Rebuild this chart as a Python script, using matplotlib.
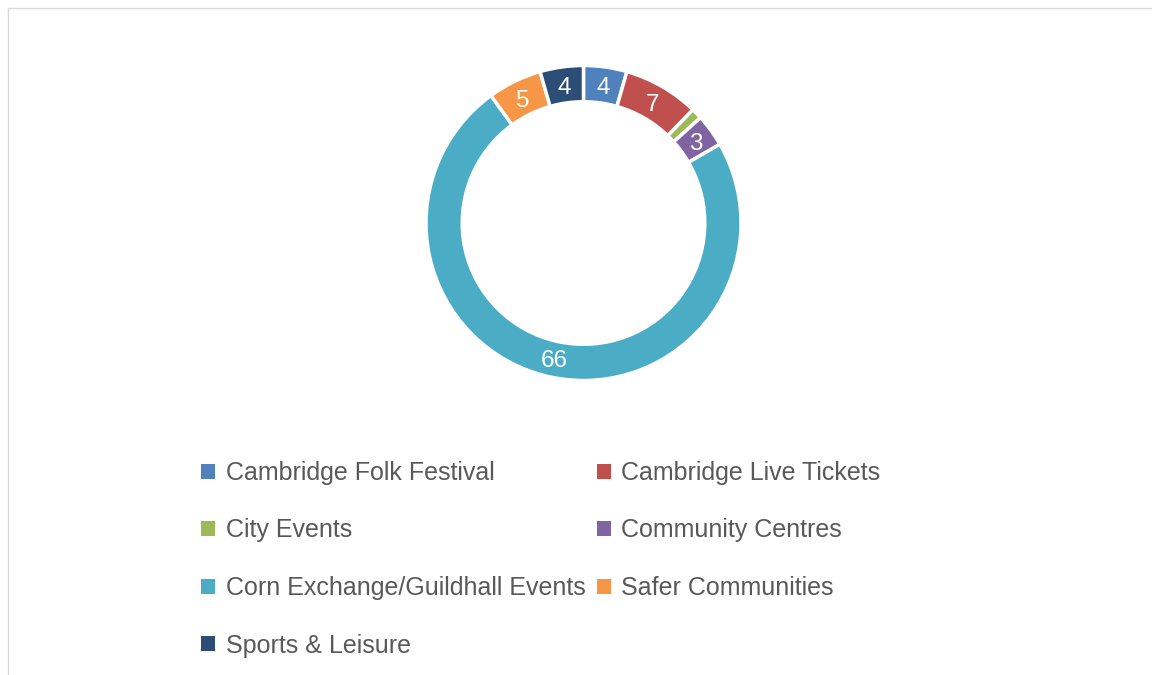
import numpy as np
import matplotlib.pyplot as plt
from matplotlib.patches import Patch
from matplotlib.lines import Line2D

plt.rcParams['font.family'] = ['Liberation Sans', 'DejaVu Sans']

# Data
categories = ['Cambridge Folk Festival', 'Cambridge Live Tickets', 'City Events',
              'Community Centres', 'Corn Exchange/Guildhall Events',
              'Safer Communities', 'Sports & Leisure']
values = [4, 7, 1, 3, 66, 5, 4]
shown = [True, True, False, True, True, True, True]
colors = ['#4F81BD', '#C0504D', '#9BBB59', '#8064A2', '#4BACC6', '#F79646', '#2C4D75']

W, H = 1152, 675
fig = plt.figure(figsize=(W / 100, H / 100), dpi=100)

# thin chart-area border (top and left visible)
fig.add_artist(Line2D([8 / W, 1], [1 - 7.5 / H, 1 - 7.5 / H], color='#D9D9D9', lw=1))
fig.add_artist(Line2D([8 / W, 8 / W], [0, 1 - 7.5 / H], color='#D9D9D9', lw=1))

# donut
cx, cy, r = 583.5, 223, 157.5
ax = fig.add_axes([(cx - r) / W, (H - cy - r) / H, 2 * r / W, 2 * r / H])
wedges, _ = ax.pie(values, colors=colors, startangle=90, counterclock=False,
                   radius=1, wedgeprops=dict(width=0.23, edgecolor='white', linewidth=2.5))
ax.set_xlim(-1, 1)
ax.set_ylim(-1, 1)
ax.axis('off')

total = sum(values)
start = 90.0
for v, s in zip(values, shown):
    ang = start - v / total * 360 / 2
    start -= v / total * 360
    if not s:
        continue
    rr = 0.88
    ax.text(rr * np.cos(np.radians(ang)), rr * np.sin(np.radians(ang)), str(v),
            ha='center', va='center_baseline', color='white', fontsize=17.5)

# legend, row-major order in two columns
handles = [Patch(facecolor=c, edgecolor='none') for c in colors]
order = [0, 2, 4, 6, 1, 3, 5]
leg = fig.legend([handles[i] for i in order], [categories[i] for i in order],
                 ncol=2, loc='upper left', bbox_to_anchor=(201 / W, 1 - 461 / H),
                 frameon=False, fontsize=18, handlelength=0.56, handleheight=0.56,
                 handletextpad=0.42, columnspacing=0.45, labelspacing=1.34,
                 borderpad=0, borderaxespad=0, labelcolor='#595959')

fig.savefig('out.png', dpi=100)
